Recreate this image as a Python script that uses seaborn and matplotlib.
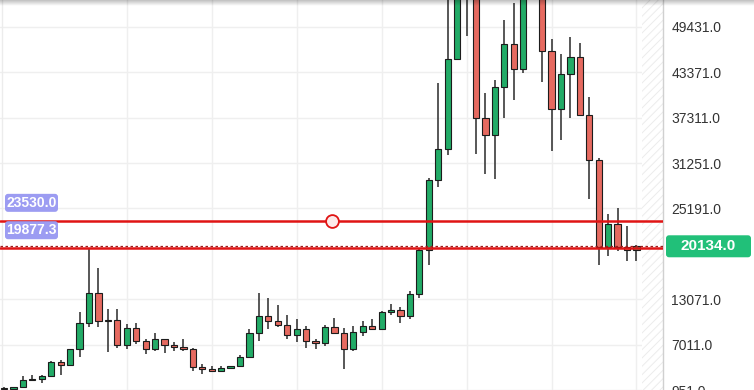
import numpy as np
import pandas as pd
import matplotlib
matplotlib.use("Agg")
import matplotlib.pyplot as plt
import seaborn as sns
from matplotlib.patches import FancyBboxPatch
from matplotlib.transforms import IdentityTransform

# ---------------- data (monthly candles, Mar 2017 .. Oct 2022) ----------------
months = list(pd.period_range("2017-03", "2022-10", freq="M").astype(str))
opens = [1190, 1080, 1350, 2300, 2480, 2870, 4740, 4340, 6450, 9950,
         13850, 10200, 10300, 6950, 9250, 7500, 6400, 7730, 7010, 6630, 6370, 4040,
         3740, 3460, 3850, 4100, 5350, 8550, 10800, 10100, 9600, 8300, 9150, 7550,
         7190, 9350, 8550, 6400, 8630, 9450, 9140, 11350, 11650, 10780, 13800, 19700,
         29000, 33100, 45200, 58800, 57700, 37300, 35000, 41400, 47150, 43750, 61300, 57000,
         46200, 38450, 43100, 45450, 37650, 31650, 20000, 23050, 20000, 19600]
highs = [1290, 1350, 2760, 3000, 2950, 4760, 4980, 6470, 11400, 19877,
         17200, 11800, 11700, 9750, 9950, 7780, 8500, 7760, 7400, 7700, 6600, 4400,
         4100, 4200, 4100, 5600, 9100, 13900, 13200, 12300, 10950, 10400, 9500, 7750,
         9600, 10500, 9200, 9450, 10100, 10400, 11450, 12470, 12050, 14100, 19850, 29300,
         41950, 58300, 61800, 64900, 59600, 40550, 42300, 50400, 52650, 67000, 69000, 59100,
         47850, 45850, 48100, 47300, 40000, 31950, 24500, 25300, 22800, 20250]
lows = [890, 1060, 1350, 2100, 1830, 2680, 2970, 4200, 5300, 9300,
        9300, 6000, 6600, 6450, 7050, 5780, 6100, 5880, 6100, 6200, 3500, 3150,
        3400, 3400, 3700, 4050, 5300, 7500, 9100, 9350, 7700, 7300, 6550, 6430,
        6850, 8450, 3800, 6150, 8100, 8900, 8950, 10900, 9880, 10400, 13200, 17600,
        28100, 32300, 45000, 48200, 32450, 29800, 29150, 37250, 39600, 43300, 53300, 42000,
        32850, 34300, 37250, 37500, 26500, 17600, 18800, 19500, 18150, 18150]
closes = [1080, 1350, 2300, 2480, 2870, 4740, 4340, 6450, 9950, 13850,
          10200, 10300, 6950, 9250, 7500, 6400, 7730, 7010, 6630, 6370, 4040, 3740,
          3460, 3850, 4100, 5350, 8550, 10800, 10100, 9600, 8300, 9150, 7550, 7190,
          9350, 8550, 6400, 8630, 9450, 9140, 11350, 11650, 10780, 13800, 19700, 29000,
          33100, 45200, 58800, 57700, 37300, 35000, 41400, 47150, 43750, 61300, 57000, 46200,
          38450, 43100, 45450, 37650, 31650, 20000, 23050, 20000, 19600, 20134]

level_upper = 23530.0
level_lower = 19877.3
last_price = 20134.0
y_ticks = [951, 7011, 13071, 25191, 31251, 37311, 43371, 49431]
grid_months = ["2018-04", "2019-01", "2019-10", "2020-07", "2021-04", "2022-01", "2022-10"]
handle_month_pos = 34.74  # drawing handle on the upper level line

# ---------------- style ----------------
sns.set_theme(style="white")
plt.rcParams["font.family"] = ["Liberation Sans", "DejaVu Sans"]
plt.rcParams["hatch.linewidth"] = 0.7

GREEN = "#22ab67"
RED = "#e66a60"
LINE_RED = "#e01414"

df = pd.DataFrame(dict(month=months, open=opens, high=highs, low=lows, close=closes))
df["pos"] = np.arange(len(df))
df["up"] = df["close"] >= df["open"]

W, H = 754, 390
fig = plt.figure(figsize=(W / 100, H / 100), dpi=100)
fig.patch.set_facecolor("white")
ax = fig.add_axes([0, 0, 663 / W, 1])
ax.set_facecolor("white")
ax.set_xlim(-0.43, 69.81)
ax.set_ylim(1312, 53010)

# grid
for m in grid_months:
    ax.axvline(months.index(m), color="#efefef", lw=1, zorder=0)
for t in y_ticks:
    ax.axhline(t, color="#efefef", lw=1, zorder=0)
ax.axvline(-0.2, color="#ececec", lw=1, zorder=0)

# future hatch region
ax.axvspan(len(df) - 0.45, 69.81, facecolor="white", edgecolor="#ececec",
           hatch="////", lw=0, zorder=0.5)

# wicks
ax.vlines(df["pos"], df["low"], df["high"], color="#2a2a2a", lw=1.1, zorder=2)
# bodies
bottom = np.minimum(df["open"], df["close"])
height = np.maximum(np.abs(df["close"] - df["open"]), 90)
ax.bar(df["pos"], height, bottom=bottom, width=0.66,
       color=np.where(df["up"], GREEN, RED), edgecolor="#1c1c1c", lw=0.8, zorder=3)

# level lines
ax.axhline(level_upper, color=LINE_RED, lw=1.8, zorder=4)
ax.axhline(level_lower, color=LINE_RED, lw=1.8, zorder=4)
ax.axhline(last_price, color="#a01c1c", lw=0.9, ls=(0, (2, 2)), zorder=5)

sns.scatterplot(x=[handle_month_pos], y=[level_upper], s=85, color="#fdeaea",
                edgecolor=LINE_RED, linewidth=1.3, zorder=6, ax=ax, legend=False)

# axes decoration
for s in ["left", "top", "bottom"]:
    ax.spines[s].set_visible(False)
ax.spines["right"].set_color("#d0d0d0")
ax.spines["right"].set_linewidth(1)
ax.set_xticks([])
ax.yaxis.tick_right()
ax.set_yticks(y_ticks)
ax.set_yticklabels([f"{t:.1f}" for t in y_ticks])
ax.tick_params(axis="y", length=0, pad=6, labelsize=10, labelcolor="#333333")
ax.set_xlabel("")
ax.set_ylabel("")

# label boxes (pixel positions)
def ypix(v):
    return ax.transData.transform((0, v))[1]

def pixbox(x0, yc, w, h, fc, text, fs):
    p = FancyBboxPatch((x0, yc - h / 2), w, h, boxstyle="round,pad=0,rounding_size=3",
                       transform=IdentityTransform(), fc=fc, ec="none", zorder=10)
    fig.add_artist(p)
    fig.text((x0 + w / 2) / W, yc / H, text, ha="center", va="center",
             color="white", fontsize=fs, fontweight="bold", zorder=11)

pixbox(5, ypix(level_upper) + 18, 53, 18, "#9c9cf2", f"{level_upper:.1f}", 10)
pixbox(5, ypix(level_lower) + 18, 53, 18, "#9c9cf2", f"{level_lower:.1f}", 10)
pixbox(666, ypix(last_price), 85, 22, "#21c079", f"{last_price:.1f}", 11)

# top shadow
sh = fig.add_axes([0, 1 - 6 / H, 1, 6 / H])
grad = np.linspace(0.25, 0, 20).reshape(-1, 1)
sh.imshow(np.dstack([np.zeros_like(grad)] * 3 + [grad]), aspect="auto", extent=(0, 1, 0, 1))
sh.axis("off")

fig.savefig("out.png", dpi=100)
